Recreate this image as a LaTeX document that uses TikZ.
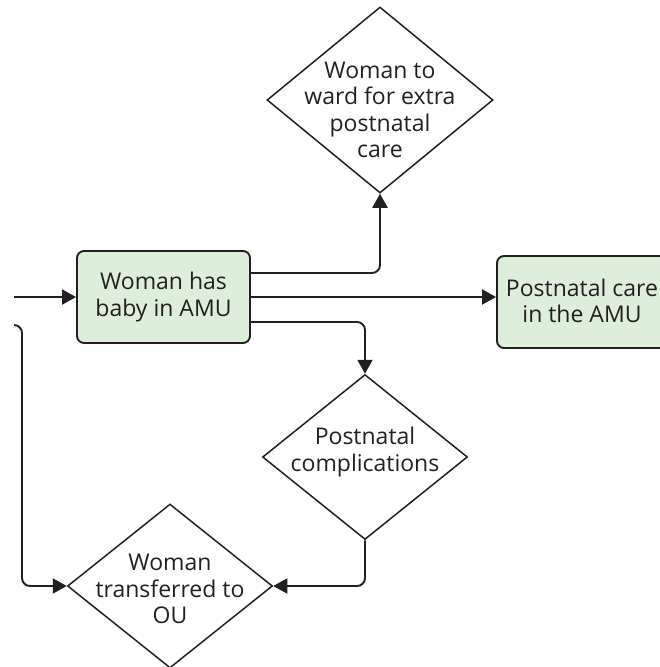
\documentclass[tikz,border=0pt]{standalone}
\usepackage{fontspec}
\setmainfont{Open Sans}
\usetikzlibrary{shapes.geometric,arrows.meta}
\definecolor{boxgreen}{HTML}{DDEEDA}
\definecolor{ink}{HTML}{231F20}
\begin{document}
\begin{tikzpicture}[x=1pt,y=-1pt,
  txt/.style={font=\fontsize{23}{26.5}\selectfont, align=center, text=ink},
  gbox/.style={draw=ink, line width=1.9pt, fill=boxgreen, rounded corners=7pt, inner sep=0pt},
  dia/.style={diamond, draw=ink, line width=1.5pt, inner sep=0pt, aspect=1},
  conn/.style={draw=ink, line width=1.9pt, rounded corners=8pt},
  arr/.style={conn, -{Triangle[length=14pt,width=15pt]}}
]
\useasboundingbox (0,0) rectangle (659,667);
\node[gbox, minimum width=173pt, minimum height=92pt] (b1) at (163.5,297) {};
\node[txt] (t1) at (163.5,297) {Woman has\\baby in AMU};
\node[gbox, minimum width=170pt, minimum height=92pt] (b2) at (582,302) {};
\node[txt] (t2) at (582,301) {Postnatal care\\in the AMU};
\node[dia, minimum width=226pt, minimum height=186pt] (d1) at (380,100) {};
\node[txt] (t3) at (380,110) {Woman to\\ward for extra\\postnatal\\care};
\node[dia, minimum width=205pt, minimum height=165pt] (d2) at (365,457) {};
\node[txt] (t4) at (365,452) {Postnatal\\complications};
\node[dia, minimum width=205pt, minimum height=164pt] (d3) at (170,586) {};
\node[txt] (t5) at (170,589) {Woman\\transferred to\\OU};
\coordinate (in1) at (14,297);
\coordinate (in2) at (14,325);
% connectors
\draw[arr] (in1) -- (b1.west);
\draw[arr] (b1.east) -- (b1.east -| b2.west);
\draw[arr] ([yshift=24pt]b1.east) -| (d1.south);
\draw[arr] ([yshift=-25pt]b1.east) -| (d2.north);
\draw[arr] (d2.south) |- (d3.east);
\draw[arr] (in2) -- (22,325) |- (d3.west);
\end{tikzpicture}
\end{document}
